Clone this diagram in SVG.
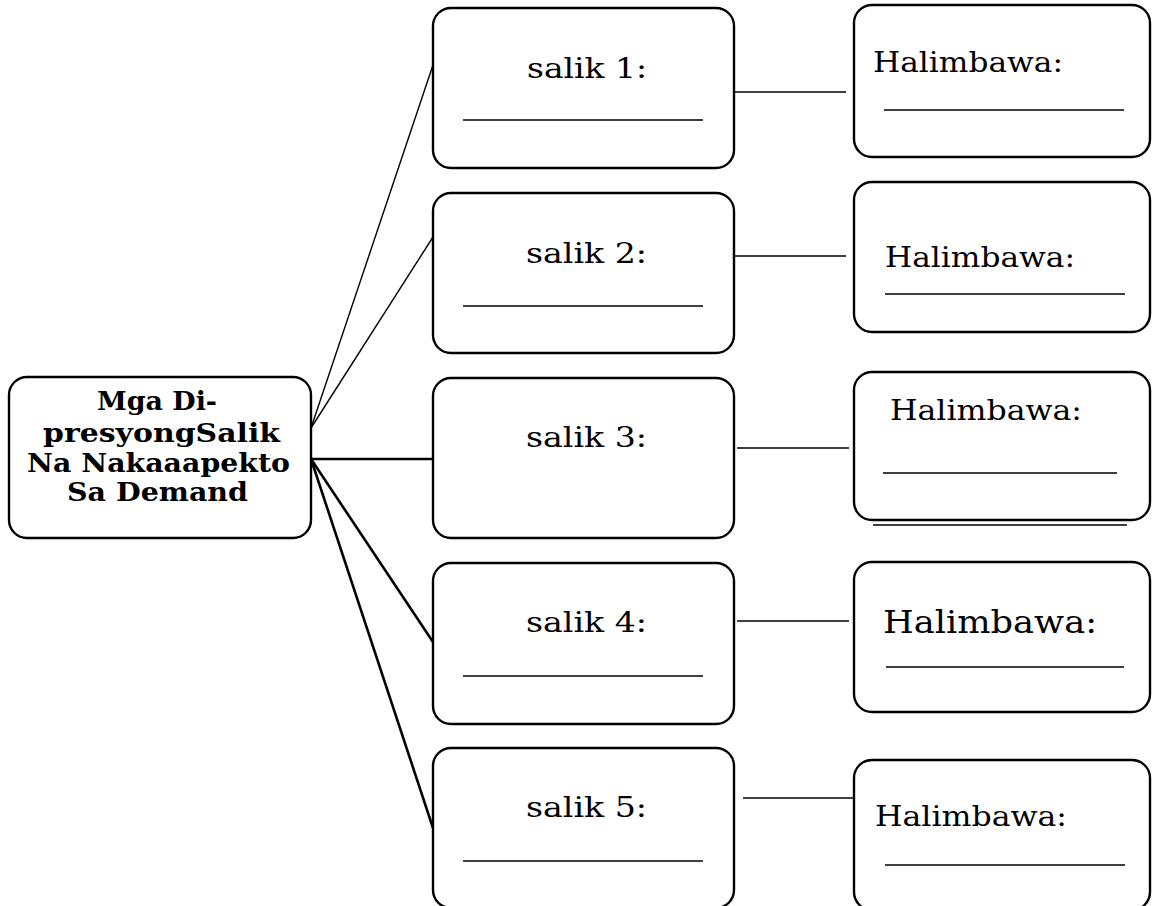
<svg xmlns="http://www.w3.org/2000/svg" width="1152" height="906" viewBox="0 0 1152 906">
<style>
.box{fill:#fff;stroke:#000;stroke-width:2.4}
.t{font-family:"DejaVu Serif","Liberation Serif",serif;font-size:27px;fill:#000}
.h{font-family:"DejaVu Serif","Liberation Serif",serif;font-size:28px;fill:#000}
.b{font-family:"DejaVu Serif","Liberation Serif",serif;font-size:26px;font-weight:bold;fill:#000}
.u{stroke:#000;stroke-width:1.6}
.thin{stroke:#000;stroke-width:1.4;fill:none}
.thick{stroke:#000;stroke-width:2.6;fill:none}
</style>
<rect width="1152" height="906" fill="#fff"/>
<g id="connectors">
<line class="thin" x1="311" y1="428" x2="433" y2="65"/>
<line class="thin" x1="311" y1="428" x2="433" y2="237"/>
<line class="thick" x1="311" y1="459" x2="433" y2="459"/>
<line class="thick" x1="311" y1="459" x2="433" y2="642"/>
<line class="thick" x1="311" y1="459" x2="433" y2="828"/>
<line class="thin" x1="734" y1="92" x2="846" y2="92"/>
<line class="thin" x1="734" y1="256" x2="846" y2="256"/>
<line class="thin" x1="737" y1="448" x2="849" y2="448"/>
<line class="thin" x1="737" y1="621" x2="849" y2="621"/>
<line class="thin" x1="743" y1="798" x2="853" y2="798"/>
</g>
<g id="center">
<rect class="box" x="9" y="377" width="302" height="161" rx="18"/>
<text class="b" x="157" y="410" text-anchor="middle" textLength="120" lengthAdjust="spacingAndGlyphs">Mga Di-</text>
<text class="b" x="43" y="442" textLength="237" lengthAdjust="spacingAndGlyphs">presyongSalik</text>
<text class="b" x="27" y="472" textLength="263" lengthAdjust="spacingAndGlyphs">Na Nakaaapekto</text>
<text class="b" x="67" y="501" textLength="181" lengthAdjust="spacingAndGlyphs">Sa Demand</text>
</g>
<g id="salik1">
<rect class="box" x="433" y="8" width="301" height="160" rx="18"/>
<text class="t" x="527" y="78" textLength="120" lengthAdjust="spacingAndGlyphs">salik 1:</text>
<line class="u" x1="463" y1="120" x2="703" y2="120"/>
</g>
<g id="salik2">
<rect class="box" x="433" y="193" width="301" height="160" rx="18"/>
<text class="t" x="526" y="263" textLength="121" lengthAdjust="spacingAndGlyphs">salik 2:</text>
<line class="u" x1="463" y1="306" x2="703" y2="306"/>
</g>
<g id="salik3">
<rect class="box" x="433" y="378" width="301" height="160" rx="18"/>
<text class="t" x="526" y="447" textLength="121" lengthAdjust="spacingAndGlyphs">salik 3:</text>
</g>
<g id="salik4">
<rect class="box" x="433" y="563" width="301" height="161" rx="18"/>
<text class="t" x="526" y="632" textLength="121" lengthAdjust="spacingAndGlyphs">salik 4:</text>
<line class="u" x1="463" y1="676" x2="703" y2="676"/>
</g>
<g id="salik5">
<rect class="box" x="433" y="748" width="301" height="160" rx="18"/>
<text class="t" x="526" y="817" textLength="121" lengthAdjust="spacingAndGlyphs">salik 5:</text>
<line class="u" x1="463" y1="861" x2="703" y2="861"/>
</g>
<g id="halimbawa1">
<rect class="box" x="854" y="5" width="296" height="152" rx="18"/>
<text class="h" x="873" y="72" textLength="190" lengthAdjust="spacingAndGlyphs">Halimbawa:</text>
<line class="u" x1="884" y1="110" x2="1124" y2="110"/>
</g>
<g id="halimbawa2">
<rect class="box" x="854" y="182" width="296" height="150" rx="18"/>
<text class="h" x="885" y="267" textLength="190" lengthAdjust="spacingAndGlyphs">Halimbawa:</text>
<line class="u" x1="885" y1="294" x2="1125" y2="294"/>
</g>
<g id="halimbawa3">
<rect class="box" x="854" y="372" width="296" height="148" rx="18"/>
<text class="h" x="890" y="420" textLength="192" lengthAdjust="spacingAndGlyphs">Halimbawa:</text>
<line class="u" x1="883" y1="473" x2="1117" y2="473"/>
<line class="u" x1="873" y1="525" x2="1127" y2="525"/>
</g>
<g id="halimbawa4">
<rect class="box" x="854" y="562" width="296" height="150" rx="18"/>
<text class="h" x="883" y="633" style="font-size:31px" textLength="214" lengthAdjust="spacingAndGlyphs">Halimbawa:</text>
<line class="u" x1="886" y1="667" x2="1124" y2="667"/>
</g>
<g id="halimbawa5">
<rect class="box" x="854" y="760" width="296" height="150" rx="18"/>
<text class="h" x="875" y="826" textLength="192" lengthAdjust="spacingAndGlyphs">Halimbawa:</text>
<line class="u" x1="885" y1="865" x2="1125" y2="865"/>
</g>
</svg>
